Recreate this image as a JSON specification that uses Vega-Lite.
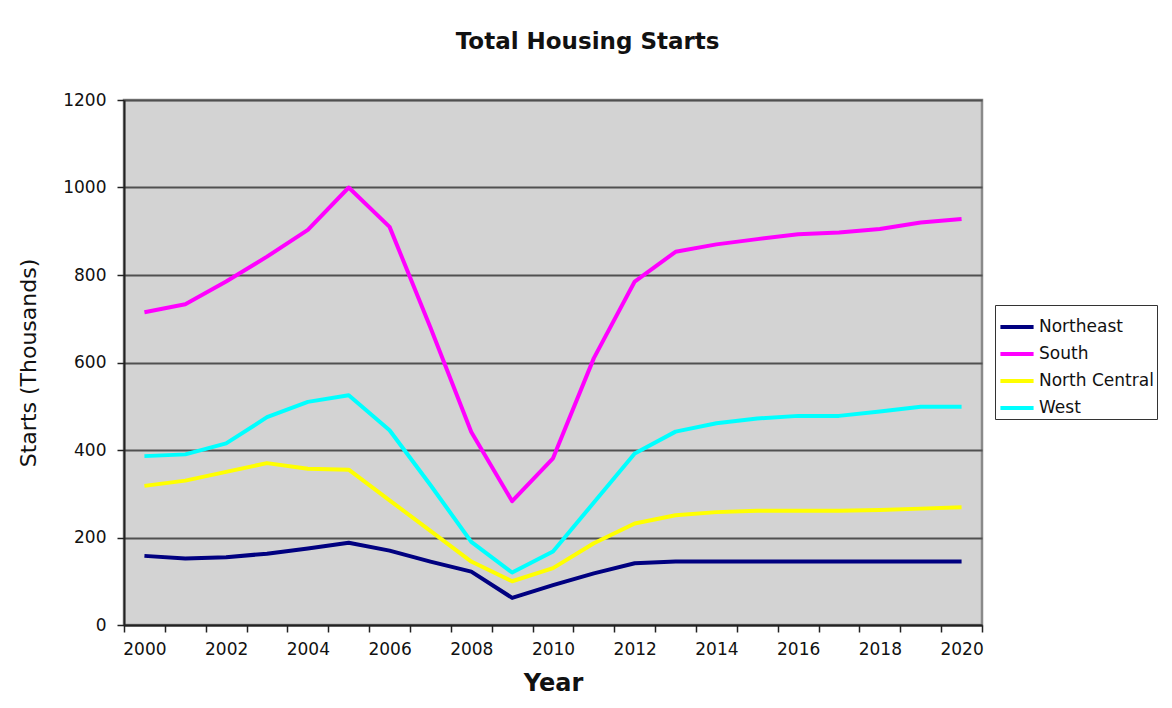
{
  "$schema": "https://vega.github.io/schema/vega-lite/v6.json",
  "width": 858,
  "height": 525,
  "autosize": "none",
  "padding": {"left": 124, "top": 100, "right": 190, "bottom": 83},
  "background": "white",
  "title": {
    "text": "Total Housing Starts",
    "font": "DejaVu Sans",
    "fontSize": 23,
    "fontWeight": "bold",
    "color": "#111111",
    "anchor": "middle",
    "frame": "bounds",
    "offset": 37
  },
  "config": {
    "font": "DejaVu Sans",
    "view": {"fill": "#d3d3d3", "stroke": "#8a8a8a", "strokeWidth": 2.5},
    "axis": {
      "labelFont": "DejaVu Sans",
      "labelFontSize": 17,
      "labelColor": "#111111",
      "titleFont": "DejaVu Sans",
      "titleColor": "#111111",
      "domainColor": "#222222",
      "domainWidth": 2,
      "tickColor": "#222222",
      "tickWidth": 1.5,
      "tickSize": 7
    }
  },
  "data": {
    "values": [
      {"year": 2000, "region": "Northeast", "starts": 158},
      {"year": 2001, "region": "Northeast", "starts": 152},
      {"year": 2002, "region": "Northeast", "starts": 155},
      {"year": 2003, "region": "Northeast", "starts": 163},
      {"year": 2004, "region": "Northeast", "starts": 175},
      {"year": 2005, "region": "Northeast", "starts": 188},
      {"year": 2006, "region": "Northeast", "starts": 170},
      {"year": 2007, "region": "Northeast", "starts": 145},
      {"year": 2008, "region": "Northeast", "starts": 122},
      {"year": 2009, "region": "Northeast", "starts": 62},
      {"year": 2010, "region": "Northeast", "starts": 91},
      {"year": 2011, "region": "Northeast", "starts": 118},
      {"year": 2012, "region": "Northeast", "starts": 141},
      {"year": 2013, "region": "Northeast", "starts": 145},
      {"year": 2014, "region": "Northeast", "starts": 145},
      {"year": 2015, "region": "Northeast", "starts": 145},
      {"year": 2016, "region": "Northeast", "starts": 145},
      {"year": 2017, "region": "Northeast", "starts": 145},
      {"year": 2018, "region": "Northeast", "starts": 145},
      {"year": 2019, "region": "Northeast", "starts": 145},
      {"year": 2020, "region": "Northeast", "starts": 145},
      {"year": 2000, "region": "South", "starts": 715},
      {"year": 2001, "region": "South", "starts": 733},
      {"year": 2002, "region": "South", "starts": 785},
      {"year": 2003, "region": "South", "starts": 842},
      {"year": 2004, "region": "South", "starts": 903},
      {"year": 2005, "region": "South", "starts": 1000},
      {"year": 2006, "region": "South", "starts": 910},
      {"year": 2007, "region": "South", "starts": 680},
      {"year": 2008, "region": "South", "starts": 441},
      {"year": 2009, "region": "South", "starts": 283},
      {"year": 2010, "region": "South", "starts": 381},
      {"year": 2011, "region": "South", "starts": 610},
      {"year": 2012, "region": "South", "starts": 785},
      {"year": 2013, "region": "South", "starts": 853},
      {"year": 2014, "region": "South", "starts": 870},
      {"year": 2015, "region": "South", "starts": 882},
      {"year": 2016, "region": "South", "starts": 893},
      {"year": 2017, "region": "South", "starts": 897},
      {"year": 2018, "region": "South", "starts": 905},
      {"year": 2019, "region": "South", "starts": 920},
      {"year": 2020, "region": "South", "starts": 928},
      {"year": 2000, "region": "North Central", "starts": 318},
      {"year": 2001, "region": "North Central", "starts": 330},
      {"year": 2002, "region": "North Central", "starts": 350},
      {"year": 2003, "region": "North Central", "starts": 370},
      {"year": 2004, "region": "North Central", "starts": 357},
      {"year": 2005, "region": "North Central", "starts": 355},
      {"year": 2006, "region": "North Central", "starts": 285},
      {"year": 2007, "region": "North Central", "starts": 215},
      {"year": 2008, "region": "North Central", "starts": 145},
      {"year": 2009, "region": "North Central", "starts": 100},
      {"year": 2010, "region": "North Central", "starts": 130},
      {"year": 2011, "region": "North Central", "starts": 187},
      {"year": 2012, "region": "North Central", "starts": 232},
      {"year": 2013, "region": "North Central", "starts": 251},
      {"year": 2014, "region": "North Central", "starts": 258},
      {"year": 2015, "region": "North Central", "starts": 261},
      {"year": 2016, "region": "North Central", "starts": 261},
      {"year": 2017, "region": "North Central", "starts": 261},
      {"year": 2018, "region": "North Central", "starts": 263},
      {"year": 2019, "region": "North Central", "starts": 266},
      {"year": 2020, "region": "North Central", "starts": 269},
      {"year": 2000, "region": "West", "starts": 386},
      {"year": 2001, "region": "West", "starts": 390},
      {"year": 2002, "region": "West", "starts": 415},
      {"year": 2003, "region": "West", "starts": 475},
      {"year": 2004, "region": "West", "starts": 510},
      {"year": 2005, "region": "West", "starts": 525},
      {"year": 2006, "region": "West", "starts": 445},
      {"year": 2007, "region": "West", "starts": 320},
      {"year": 2008, "region": "West", "starts": 190},
      {"year": 2009, "region": "West", "starts": 120},
      {"year": 2010, "region": "West", "starts": 168},
      {"year": 2011, "region": "West", "starts": 280},
      {"year": 2012, "region": "West", "starts": 392},
      {"year": 2013, "region": "West", "starts": 442},
      {"year": 2014, "region": "West", "starts": 461},
      {"year": 2015, "region": "West", "starts": 472},
      {"year": 2016, "region": "West", "starts": 478},
      {"year": 2017, "region": "West", "starts": 478},
      {"year": 2018, "region": "West", "starts": 488},
      {"year": 2019, "region": "West", "starts": 499},
      {"year": 2020, "region": "West", "starts": 499}
    ]
  },
  "mark": {"type": "line", "strokeWidth": 4, "strokeJoin": "round"},
  "encoding": {
    "x": {
      "field": "year",
      "type": "ordinal",
      "bandPosition": 0.5,
      "scale": {"type": "band", "paddingInner": 0, "paddingOuter": 0},
      "axis": {
        "title": "Year",
        "titleFontSize": 24,
        "titleFontWeight": "bold",
        "titlePadding": 14,
        "labelAngle": 0,
        "labelPadding": 9,
        "tickBand": "extent",
        "labelExpr": "datum.value % 2 === 0 ? datum.label : ''",
        "grid": false
      }
    },
    "y": {
      "field": "starts",
      "type": "quantitative",
      "scale": {"domain": [0, 1200], "nice": false},
      "axis": {
        "title": "Starts (Thousands)",
        "titleFontSize": 22,
        "titleFontWeight": "normal",
        "titlePadding": 22,
        "values": [0, 200, 400, 600, 800, 1000, 1200],
        "format": "d",
        "labelPadding": 11,
        "grid": true,
        "gridColor": "#505050",
        "gridWidth": 2
      }
    },
    "color": {
      "field": "region",
      "type": "nominal",
      "sort": ["Northeast", "South", "North Central", "West"],
      "scale": {
        "domain": ["Northeast", "South", "North Central", "West"],
        "range": ["#000080", "#ff00ff", "#ffff00", "#00ffff"]
      },
      "legend": {
        "title": null,
        "orient": "none",
        "legendX": 871,
        "legendY": 205,
        "symbolType": "stroke",
        "symbolStrokeWidth": 4,
        "symbolSize": 1100,
        "labelFont": "DejaVu Sans",
        "labelFontSize": 17,
        "labelColor": "#111111",
        "strokeColor": "#333333",
        "padding": 3,
        "rowPadding": -6,
        "labelOffset": 3,
        "fillColor": "white"
      }
    }
  }
}
